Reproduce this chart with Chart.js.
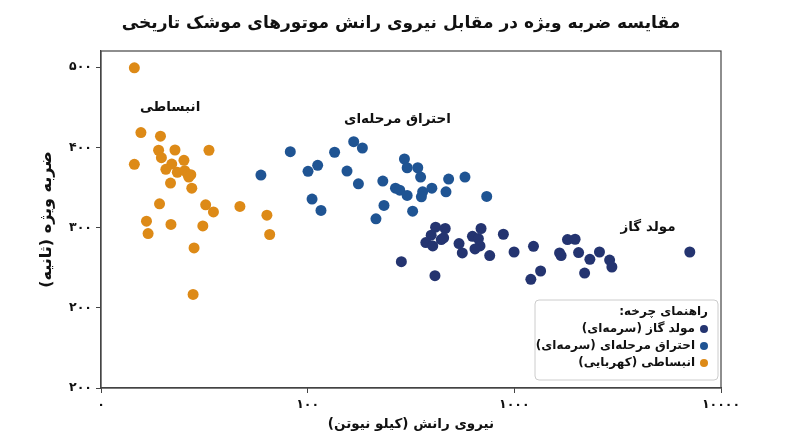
<!DOCTYPE html>
<html lang="fa">
<head>
<meta charset="utf-8">
<script src="https://cdn.jsdelivr.net/npm/chart.js@4"></script>
<style>
  html, body { margin: 0; padding: 0; background: #fff; }
  #wrap { width: 800px; height: 447px; }
</style>
</head>
<body>
<div id="wrap"><canvas id="chart" dir="rtl"></canvas></div>
<script>
// ── DATA ─────────────────────────────────────────────────────────────────────
const titleText = 'مقایسه ضربه ویژه در مقابل نیروی رانش موتورهای موشک تاریخی';
const xTitle = 'نیروی رانش (کیلو نیوتن)';
const yTitle = 'ضربه ویژه (ثانیه)';

const xTickValues = [10, 100, 1000, 10000];
const xTickLabels = ['۰', '۱۰۰', '۱۰۰۰', '۱۰۰۰۰'];
const yTickValues = [100, 200, 300, 400, 500];
const yTickLabels = ['۲۰۰', '۲۰۰', '۳۰۰', '۴۰۰', '۵۰۰'];

const seriesNames = ['مولد گاز (سرمه‌ای)', 'احتراق مرحله‌ای (سرمه‌ای)', 'انبساطی (کهربایی)'];
const legendTitle = 'راهنمای چرخه:';

// gas generator
const gasThrust = [284, 416, 463, 396, 373, 403, 443, 455, 540, 560, 690, 627, 670, 682, 645,
  760, 885, 997, 413, 1238, 1202, 1340, 1808, 1968, 1655, 1684, 2046, 2320, 2582, 2188, 2891, 2965, 7063];
const gasIsp = [257.5, 300.4, 298.8, 290.4, 281.3, 277, 285, 287.2, 280, 268.3, 298.8, 289, 286.2, 277, 273.3,
  265, 291.6, 269.5, 240, 276.6, 235.4, 245.8, 285, 285.4, 268.3, 265, 268.8, 260.4, 269.5, 243.3, 259.5, 250.8, 269.5];

// staged combustion
const stagedThrust = [59.4, 82.4, 100.4, 111.8, 105, 116, 135, 155, 167, 184, 176, 231, 234, 214, 294,
  303, 341, 352, 266, 279, 303, 360, 355, 322, 399, 481, 467, 577, 735];
const stagedIsp = [365.4, 394.5, 370, 377.5, 335.4, 321.3, 393.8, 370.4, 407, 399.1, 354.5, 357.9, 327.5, 310.8, 385.4,
  374.5, 374.5, 362.9, 349.1, 346.6, 340, 344.5, 338.3, 320.4, 349.1, 360.4, 344.5, 362.9, 338.8];

// expander
const expanderThrust = [14.5, 15.6, 19.4, 14.5, 19.0, 22.8, 33.3, 19.6, 25.2, 22.0, 20.6, 23.4, 25.4, 26.3, 27.2,
  26.6, 21.7, 27.5, 19.2, 32.1, 35.0, 47.0, 63.5, 16.6, 21.8, 31.1, 16.9, 65.5, 28.2, 27.9];
const expanderIsp = [499.1, 418.3, 413.8, 378.8, 396.3, 396.6, 396.3, 387, 383.8, 379.1, 372.5, 368.8, 370.8, 366.3, 365.8,
  362.9, 355.4, 349.1, 329.5, 328.3, 319.5, 326.3, 315.4, 307.9, 303.8, 302, 292.5, 291.3, 274.5, 216.6];

// cluster labels
const clusterLabels = ['انبساطی', 'احتراق مرحله‌ای', 'مولد گاز'];
const clusterLabelX = [21.6, 272, 4436];
const clusterLabelY = [450, 435, 300];

const colors = ['#243470', '#1f5493', '#dd8a17'];
const FONT = "'DejaVu Sans', 'Noto Sans', sans-serif";

function toPoints(xs, ys) { return xs.map((x, i) => ({ x: x, y: ys[i] })); }

// ── PLUGIN: title, frame, cluster labels, legend box ─────────────────────────
const decor = {
  id: 'decor',
  beforeDatasetsDraw(chart) {
    const { ctx, chartArea: a } = chart;
    ctx.save();
    ctx.strokeStyle = '#444';
    ctx.lineWidth = 1.2;
    ctx.strokeRect(a.left, a.top, a.right - a.left, a.bottom - a.top);
    ctx.restore();
  },
  afterDraw(chart) {
    const { ctx, chartArea: a, scales: { x, y } } = chart;
    ctx.save();
    ctx.direction = 'rtl';
    ctx.fillStyle = '#111';
    ctx.textBaseline = 'middle';
    ctx.textAlign = 'center';

    ctx.font = 'bold 17px ' + FONT;
    ctx.fillText(titleText, 401, 24);

    ctx.font = 'bold 13.5px ' + FONT;
    clusterLabels.forEach((t, i) => {
      ctx.fillText(t, x.getPixelForValue(clusterLabelX[i]), y.getPixelForValue(clusterLabelY[i]));
    });

    // legend box (bottom right, inside plot)
    const bx = a.right - 186, by = a.bottom - 88, bw = 183, bh = 80;
    ctx.fillStyle = 'rgba(255,255,255,0.9)';
    ctx.strokeStyle = '#cccccc';
    ctx.lineWidth = 1;
    ctx.beginPath();
    ctx.roundRect(bx, by, bw, bh, 4);
    ctx.fill();
    ctx.stroke();

    ctx.textAlign = 'right';
    ctx.fillStyle = '#111';
    ctx.font = 'bold 12px ' + FONT;
    ctx.fillText(legendTitle, bx + bw - 10, by + 12);
    seriesNames.forEach((name, i) => {
      const ly = by + 29 + i * 17;
      ctx.fillStyle = colors[i];
      ctx.beginPath();
      ctx.arc(bx + bw - 14, ly, 4, 0, Math.PI * 2);
      ctx.fill();
      ctx.fillStyle = '#111';
      ctx.fillText(name, bx + bw - 23, ly);
    });
    ctx.restore();
  }
};

const pointStyle = (c) => ({ backgroundColor: c, borderWidth: 0, pointRadius: 5.5, pointHoverRadius: 5.5 });

new Chart(document.getElementById('chart'), {
  type: 'scatter',
  data: {
    datasets: [
      { label: seriesNames[0], data: toPoints(gasThrust, gasIsp), ...pointStyle(colors[0]) },
      { label: seriesNames[1], data: toPoints(stagedThrust, stagedIsp), ...pointStyle(colors[1]) },
      { label: seriesNames[2], data: toPoints(expanderThrust, expanderIsp), ...pointStyle(colors[2]) }
    ]
  },
  options: {
    responsive: true, maintainAspectRatio: false, animation: false,
    layout: { padding: { top: 51, right: 79, left: 0, bottom: 0 } },
    plugins: { legend: { display: false }, tooltip: { enabled: false } },
    scales: {
      x: {
        type: 'logarithmic', min: 10, max: 10000,
        afterBuildTicks: s => { s.ticks = xTickValues.map(v => ({ value: v })); },
        afterFit: s => { s.height = 59; },
        ticks: {
          callback: (v) => xTickLabels[xTickValues.indexOf(v)],
          color: '#111', font: { family: FONT, size: 12.5, weight: 'bold' }, padding: 4, maxRotation: 0
        },
        grid: { drawOnChartArea: false, drawTicks: true, tickLength: 5, color: '#444' },
        border: { color: '#444', width: 1.2 },
        title: { display: true, text: xTitle, color: '#111', font: { family: FONT, size: 13.5, weight: 'bold' }, padding: { top: 0, bottom: 14 } }
      },
      y: {
        min: 100, max: 520,
        afterBuildTicks: s => { s.ticks = yTickValues.map(v => ({ value: v })); },
        afterFit: s => { s.width = 101; },
        ticks: {
          callback: (v) => yTickLabels[yTickValues.indexOf(v)],
          color: '#111', font: { family: FONT, size: 12.5, weight: 'bold' }, padding: 4
        },
        grid: { drawOnChartArea: false, drawTicks: true, tickLength: 5, color: '#444' },
        border: { color: '#444', width: 1.2 },
        title: { display: true, text: yTitle, color: '#111', font: { family: FONT, size: 16, weight: 'bold' }, padding: { top: 37, bottom: 0 } }
      }
    }
  },
  plugins: [decor]
});
</script>
</body>
</html>
